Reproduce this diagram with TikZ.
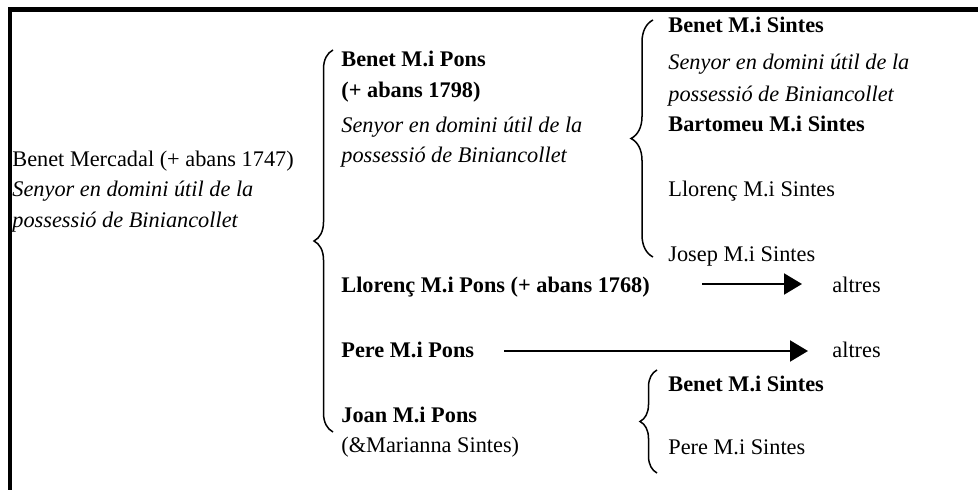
\documentclass[tikz,border=0pt]{standalone}
\usepackage{fontspec}
\setmainfont{Liberation Serif}
\usepackage{xcolor}
\usepackage{tikz}
\usetikzlibrary{arrows.meta}
\usetikzlibrary{decorations.pathreplacing,positioning}

\tikzset{
    linia/.style={anchor=base west, inner sep=0pt},
    nom/.style={linia, font=\bfseries},
    nota/.style={linia, font=\itshape},
    clau/.style={decorate, decoration={brace, amplitude=#1}, line width=0.75pt},
    fletxa/.style={-{Triangle[length=9pt,width=10.5pt]}, line width=1pt}
}

\begin{document}
\fontsize{11.15pt}{14pt}\selectfont
\begin{tikzpicture}[x=0.5pt,y=-0.5pt]
                \useasboundingbox (0,0) rectangle (978,490);

                % marc
                \draw[
                    line width=2.1pt
                    ] (10.3,490) |- (978,9.5);

                % pare
                \node[linia] (benet) at (12,167) {Benet Mercadal (+ abans 1747)};
                \node[nota] (benetA) at (12,197) {Senyor en domini útil de la};
                \node[nota] (benetB) at (12,228) {possessió de Biniancollet};

                % fills
                \node[nom] (bpons) at (341,67) {Benet M.i Pons};
                \node[nom] (bponsA) at (341,98) {(+ abans 1798)};
                \node[nota] (bponsB) at (341,133) {Senyor en domini útil de la};
                \node[nota] (bponsC) at (341,163) {possessió de Biniancollet};
                \node[nom] (lpons) at (341,293) {Llorenç M.i Pons (+ abans 1768)};
                \node[nom] (ppons) at (341,358) {Pere M.i Pons};
                \node[nom] (jpons) at (341,423) {Joan M.i Pons};
                \node[linia] (jponsA) at (341,453) {(\&Marianna Sintes)};

                % nets
                \node[nom] (bsintes) at (668,33) {Benet M.i Sintes};
                \node[nota] (bsintesA) at (668,70) {Senyor en domini útil de la};
                \node[nota] (bsintesB) at (668,102) {possessió de Biniancollet};
                \node[nom] (btsintes) at (668,132) {Bartomeu M.i Sintes};
                \node[linia] (lsintes) at (668,197) {Llorenç M.i Sintes};
                \node[linia] (jsintes) at (668,262) {Josep M.i Sintes};
                \node[nom] (bsintes2) at (668,392) {Benet M.i Sintes};
                \node[linia] (psintes) at (668,455) {Pere M.i Sintes};

                \node[linia] (altres1) at (832,293) {altres};
                \node[linia] (altres2) at (832,358) {altres};

                % claus
                \draw[clau=9.5pt] (333,432) -- (333,50);
                \draw[clau=11pt] (653,257) -- (653,20);
                \draw[clau=8.5pt] (657,473) -- (657,370);

                % fletxes
                \coordinate (f1) at (702,284);
                \coordinate (f2) at (504,351);
                \draw[
                    fletxa,
                    shorten >=15pt
                ] (f1) to (f1 -| altres1.west);
                \draw[
                    fletxa,
                    shorten >=12pt
                ] (f2) to (f2 -| altres2.west);

            \end{tikzpicture}
\end{document}
